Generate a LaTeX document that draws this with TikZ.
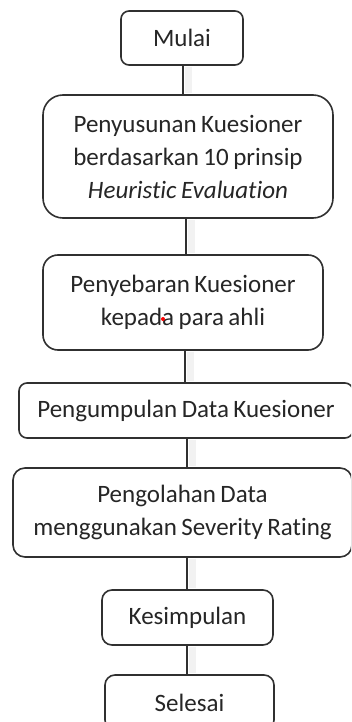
\documentclass[tikz,border=0pt]{standalone}
\usepackage{fontspec}
\setmainfont[Ligatures=NoCommon,WordSpace=0.8]{Carlito}
\definecolor{ink}{HTML}{262626}
\definecolor{edge}{HTML}{303030}
\begin{document}
\begin{tikzpicture}[x=1pt,y=-1pt,
  box/.style={draw=edge,line width=1.6pt,text=ink,align=center,inner sep=0pt,
    font=\fontsize{25}{33}\selectfont},
  link/.style={draw=edge,line width=1.6pt},
  shade/.style={draw=gray!10,line width=7pt}]
\useasboundingbox (0,0) rectangle (351,722);
\clip (0,0) rectangle (351,722);
\fill[white] (0,0) rectangle (351,722);
\node[box,minimum width=122pt,minimum height=54pt,rounded corners=8pt] (m) at (182,38) {Mulai};
\node[box,minimum width=290pt,minimum height=123pt,rounded corners=20pt] (p) at (188,156.5)
  {Penyusunan Kuesioner\\berdasarkan 10 prinsip\\\textit{Heuristic Evaluation}};
\node[box,minimum width=280pt,minimum height=95pt,rounded corners=15pt] (s) at (183,302.5)
  {Penyebaran Kuesioner\\kepada para ahli};
\node[box,minimum width=334pt,minimum height=55pt,rounded corners=8pt] (k) at (186,410.5)
  {Pengumpulan Data Kuesioner};
\node[box,minimum width=339pt,minimum height=89pt,rounded corners=12pt] (o) at (182.5,512.5)
  {Pengolahan Data\\menggunakan Severity Rating};
\node[box,minimum width=171pt,minimum height=55pt,rounded corners=10pt] (ks) at (187.5,617.5)
  {Kesimpulan};
\node[box,minimum width=169pt,minimum height=55pt,rounded corners=10pt] (se) at (189.5,702.5)
  {Selesai};
% shadows of connectors
\draw[shade] ([xshift=6pt,yshift=-1pt]m.south) -- ([xshift=6pt,yshift=1pt]m.south |- p.north);
\draw[shade] ([xshift=3pt,yshift=-1pt]p.south) -- ([xshift=3pt,yshift=1pt]p.south |- s.north);
\draw[shade] ([xshift=7pt,yshift=-1pt]s.south) -- ([xshift=7pt,yshift=1pt]s.south |- k.north);
\draw[shade] ([xshift=6pt,yshift=-1pt]k.south) -- ([xshift=6pt,yshift=1pt]k.south |- o.north);
\draw[shade] ([xshift=10pt,yshift=-1pt]o.south) -- ([xshift=10pt,yshift=1pt]o.south |- ks.north);
\draw[shade] ([xshift=5pt,yshift=-1pt]ks.south) -- ([xshift=5pt,yshift=1pt]ks.south |- se.north);
% connectors
\draw[link] ([xshift=1pt]m.south) -- ([xshift=1pt]m.south |- p.north);
\draw[link] ([xshift=-2pt]p.south) -- ([xshift=-2pt]p.south |- s.north);
\draw[link] ([xshift=2pt]s.south) -- ([xshift=2pt]s.south |- k.north);
\draw[link] ([xshift=1pt]k.south) -- ([xshift=1pt]k.south |- o.north);
\draw[link] ([xshift=4.5pt]o.south) -- ([xshift=4.5pt]o.south |- ks.north);
\draw[link] ([xshift=-0.5pt]ks.south) -- ([xshift=-0.5pt]ks.south |- se.north);
\fill[red] (163,319) circle (2pt);
\end{tikzpicture}
\end{document}
